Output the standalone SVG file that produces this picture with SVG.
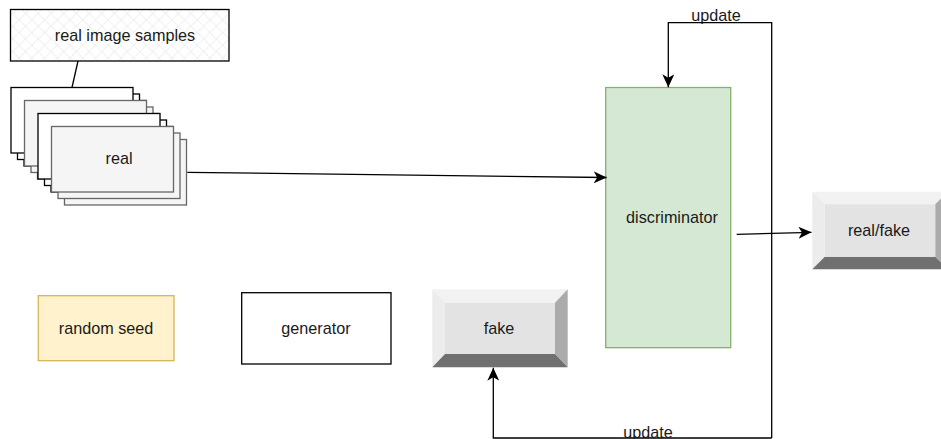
<svg xmlns="http://www.w3.org/2000/svg" width="941" height="439" viewBox="0 0 941 439">
<style>
text{font-family:"Liberation Sans",Arial,sans-serif;font-size:16.2px;fill:#1a1a1a;text-anchor:middle}
.edge{fill:none;stroke:#000;stroke-width:1.3}
.cw{fill:#fff;stroke:#000;stroke-width:1.3}
.cg{fill:#f5f5f5;stroke:#666;stroke-width:1.3}
.bt{fill:#f2f2f2}.bl{fill:#ececec}.br{fill:#ababab}.bb{fill:#707070}.bf{fill:#e3e3e3}
</style>
<defs>
<pattern id="hatch" width="9" height="9" patternUnits="userSpaceOnUse" patternTransform="rotate(45)">
<rect width="9" height="9" fill="#fff"/>
<path d="M0,0V9M0,0H9" stroke="#e4e4e4" stroke-width="1"/>
</pattern>
<marker id="arr" markerUnits="userSpaceOnUse" markerWidth="14" markerHeight="12" refX="13" refY="6" orient="auto">
<path d="M0,0 L13,6 L0,12 L3.5,6 z" fill="#000"/>
</marker>
</defs>

<g id="real-image-samples">
<rect x="10.5" y="9.5" width="218.5" height="51.5" fill="url(#hatch)" stroke="#000" stroke-width="1.3"/>
<text x="125" y="41">real image samples</text>
</g>

<g id="real">
<rect class="cw" x="24" y="100.5" width="122" height="65.5"/>
<rect class="cw" x="17.5" y="94" width="122" height="65.5"/>
<rect class="cw" x="11" y="87.5" width="122" height="65.5"/>
<rect class="cg" x="37.5" y="113.5" width="122" height="65.5"/>
<rect class="cg" x="31" y="107" width="122" height="65.5"/>
<rect class="cg" x="24.5" y="100.5" width="122" height="65.5"/>
<rect class="cw" x="51" y="126.5" width="122" height="65.5"/>
<rect class="cw" x="44.5" y="120" width="122" height="65.5"/>
<rect class="cw" x="38" y="113.5" width="122" height="65.5"/>
<rect class="cg" x="64.5" y="139.5" width="122" height="65.5"/>
<rect class="cg" x="58" y="133" width="122" height="65.5"/>
<rect class="cg" x="51.5" y="126.5" width="122" height="65.5"/>
<text x="119" y="163.5">real</text>
</g>

<g id="discriminator">
<rect x="605.7" y="87.5" width="125" height="260.2" fill="#d5e8d4" stroke="#82b366" stroke-width="1.3"/>
<text x="672" y="223.3">discriminator</text>
</g>

<g id="real-fake">
<polygon class="bt" points="812.3,191.7 947.7,191.7 935.2,204.2 824.8,204.2"/>
<polygon class="bl" points="812.3,191.7 824.8,204.2 824.8,256.8 812.3,269.3"/>
<polygon class="br" points="947.7,191.7 947.7,269.3 935.2,256.8 935.2,204.2"/>
<polygon class="bb" points="812.3,269.3 824.8,256.8 935.2,256.8 947.7,269.3"/>
<rect class="bf" x="824.8" y="204.2" width="110.4" height="52.6"/>
<text x="879" y="236">real/fake</text>
</g>

<g id="fake">
<polygon class="bt" points="432.3,289.3 567.7,289.3 555,302.7 445,302.7"/>
<polygon class="bl" points="432.3,289.3 445,302.7 445,354 432.3,367.3"/>
<polygon class="br" points="567.7,289.3 567.7,367.3 555,354 555,302.7"/>
<polygon class="bb" points="432.3,367.3 445,354 555,354 567.7,367.3"/>
<rect class="bf" x="445" y="302.7" width="110" height="51.3"/>
<text x="499" y="333.5">fake</text>
</g>

<g id="random-seed">
<rect x="38.3" y="295.7" width="135.7" height="65" fill="#fff2cc" stroke="#d6b656" stroke-width="1.3"/>
<text x="106" y="333.5">random seed</text>
</g>

<g id="generator">
<rect x="241.7" y="292.7" width="149.3" height="71.3" fill="#fff" stroke="#000" stroke-width="1.3"/>
<text x="316" y="333.5">generator</text>
</g>

<g id="connectors">
<path class="edge" d="M78,61 L72,87.5"/>
<path class="edge" d="M187.3,172.3 L606.7,177.5" marker-end="url(#arr)"/>
<path class="edge" d="M736.7,234.3 L811.5,232.3" marker-end="url(#arr)"/>
<path class="edge" d="M771.7,438 V22.7 H668.3 V87.3" marker-end="url(#arr)"/>
<path class="edge" d="M771.7,438 H493.3 V367.8" marker-end="url(#arr)"/>
<text x="716" y="21">update</text>
<text x="648" y="437.5">update</text>
</g>
</svg>
